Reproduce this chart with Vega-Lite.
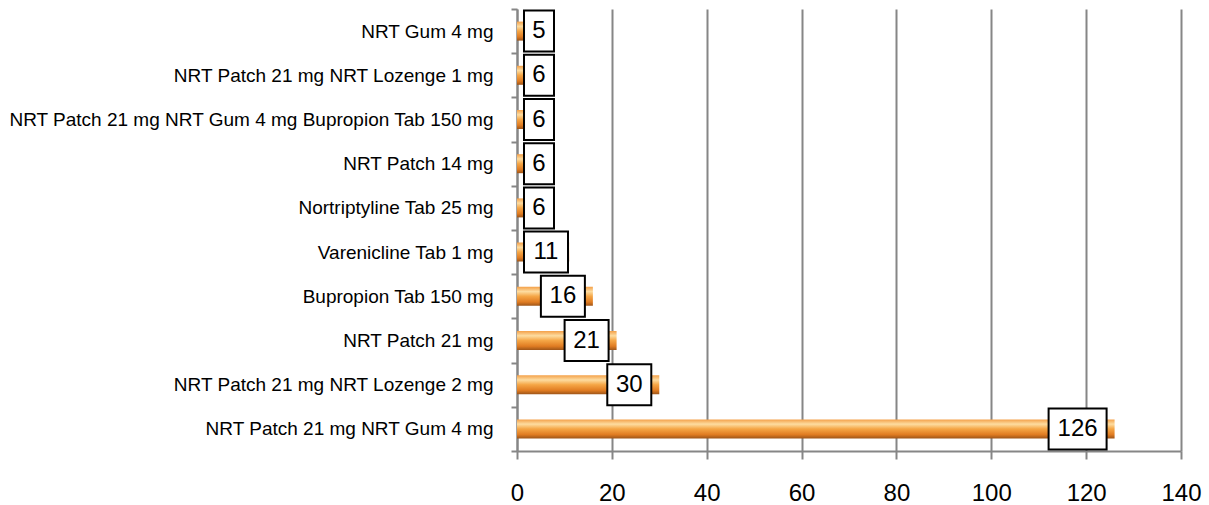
{
  "$schema": "https://vega.github.io/schema/vega-lite/v6.json",
  "width": 664,
  "height": 442,
  "autosize": "none",
  "padding": {"left": 517, "top": 9, "right": 28, "bottom": 54},
  "background": "white",
  "config": {"view": {"stroke": null}, "font": "Liberation Sans"},
  "data": {
    "values": [
      {"treatment": "NRT Gum 4 mg", "count": 5},
      {"treatment": "NRT Patch 21 mg NRT Lozenge 1 mg", "count": 6},
      {"treatment": "NRT Patch 21 mg NRT Gum 4 mg Bupropion Tab 150 mg", "count": 6},
      {"treatment": "NRT Patch 14 mg", "count": 6},
      {"treatment": "Nortriptyline Tab 25 mg", "count": 6},
      {"treatment": "Varenicline Tab 1 mg", "count": 11},
      {"treatment": "Bupropion Tab 150 mg", "count": 16},
      {"treatment": "NRT Patch 21 mg", "count": 21},
      {"treatment": "NRT Patch 21 mg NRT Lozenge 2 mg", "count": 30},
      {"treatment": "NRT Patch 21 mg NRT Gum 4 mg", "count": 126}
    ]
  },
  "encoding": {
    "y": {
      "field": "treatment",
      "type": "nominal",
      "sort": null,
      "title": null,
      "scale": {"paddingInner": 0, "paddingOuter": 0},
      "axis": {
        "domainColor": "#868686",
        "domainWidth": 2,
        "tickBand": "extent",
        "tickColor": "#868686",
        "tickWidth": 2,
        "tickSize": 6,
        "labelFont": "Liberation Sans",
        "labelFontSize": 19,
        "labelColor": "black",
        "labelPadding": 18,
        "labelLimit": 0,
        "grid": false
      }
    }
  },
  "layer": [
    {
      "mark": {
        "type": "bar",
        "size": 19,
        "color": {
          "gradient": "linear",
          "x1": 0, "y1": 0, "x2": 0, "y2": 1,
          "stops": [
            {"offset": 0, "color": "#F4A048"},
            {"offset": 0.25, "color": "#FDDCA0"},
            {"offset": 0.5, "color": "#F5A646"},
            {"offset": 0.8, "color": "#E07C22"},
            {"offset": 1, "color": "#9E5518"}
          ]
        }
      },
      "encoding": {
        "x": {
          "field": "count",
          "type": "quantitative",
          "title": null,
          "scale": {"domain": [0, 140], "nice": false},
          "axis": {
            "values": [0, 20, 40, 60, 80, 100, 120, 140],
            "domainColor": "#868686",
            "domainWidth": 2,
            "tickColor": "#868686",
            "tickWidth": 2,
            "tickSize": 8,
            "gridColor": "#868686",
            "gridWidth": 2,
            "labelFont": "Liberation Sans",
            "labelFontSize": 24,
            "labelColor": "black",
            "labelPadding": 22,
            "labelFlush": false,
            "labelOverlap": false
          }
        }
      }
    },
    {
      "transform": [{"filter": "datum.count < 10"}],
      "layer": [
        {
          "mark": {"type": "bar", "size": 41, "fill": "white", "stroke": "black", "strokeWidth": 2, "xOffset": 7, "x2Offset": 37},
          "encoding": {"x": {"datum": 0, "type": "quantitative", "title": null}, "x2": {"datum": 0}}
        },
        {
          "mark": {"type": "text", "dx": 22, "align": "center", "baseline": "middle", "fontSize": 24, "font": "Liberation Sans", "color": "black"},
          "encoding": {"x": {"datum": 0, "type": "quantitative", "title": null}, "text": {"field": "count"}}
        }
      ]
    },
    {
      "transform": [{"filter": "datum.count >= 10 && datum.count < 16"}],
      "layer": [
        {
          "mark": {"type": "bar", "size": 41, "fill": "white", "stroke": "black", "strokeWidth": 2, "xOffset": 7, "x2Offset": 51},
          "encoding": {"x": {"datum": 0, "type": "quantitative", "title": null}, "x2": {"datum": 0}}
        },
        {
          "mark": {"type": "text", "dx": 29, "align": "center", "baseline": "middle", "fontSize": 24, "font": "Liberation Sans", "color": "black"},
          "encoding": {"x": {"datum": 0, "type": "quantitative", "title": null}, "text": {"field": "count"}}
        }
      ]
    },
    {
      "transform": [{"filter": "datum.count >= 16 && datum.count < 100"}],
      "layer": [
        {
          "mark": {"type": "bar", "size": 41, "fill": "white", "stroke": "black", "strokeWidth": 2, "xOffset": -52, "x2Offset": -8},
          "encoding": {"x": {"field": "count", "type": "quantitative", "title": null}, "x2": {"field": "count"}}
        },
        {
          "mark": {"type": "text", "dx": -30, "align": "center", "baseline": "middle", "fontSize": 24, "font": "Liberation Sans", "color": "black"},
          "encoding": {"x": {"field": "count", "type": "quantitative", "title": null}, "text": {"field": "count"}}
        }
      ]
    },
    {
      "transform": [{"filter": "datum.count >= 100"}],
      "layer": [
        {
          "mark": {"type": "bar", "size": 41, "fill": "white", "stroke": "black", "strokeWidth": 2, "xOffset": -66, "x2Offset": -8},
          "encoding": {"x": {"field": "count", "type": "quantitative", "title": null}, "x2": {"field": "count"}}
        },
        {
          "mark": {"type": "text", "dx": -37, "align": "center", "baseline": "middle", "fontSize": 24, "font": "Liberation Sans", "color": "black"},
          "encoding": {"x": {"field": "count", "type": "quantitative", "title": null}, "text": {"field": "count"}}
        }
      ]
    }
  ]
}
